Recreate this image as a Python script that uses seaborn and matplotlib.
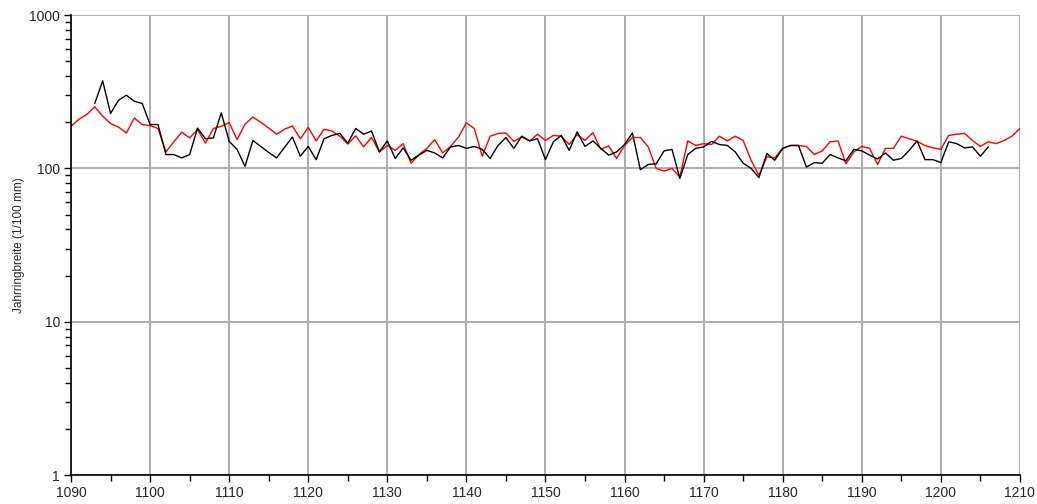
import matplotlib
matplotlib.use("Agg")
import matplotlib.pyplot as plt
import matplotlib.ticker as mticker
import seaborn as sns
import pandas as pd

# Jahrringbreiten (1/100 mm)
red_years = list(range(1090, 1211))
red_values = [
    188, 209, 225, 252, 219, 196, 186, 170, 213, 193,   # 1090-1099
    190, 182, 128, 149, 172, 158, 179, 146, 182, 188,   # 1100-1109
    199, 154, 194, 216, 200, 183, 167, 180, 189, 156,   # 1110-1119
    185, 151, 180, 175, 162, 144, 163, 138, 159, 128,   # 1120-1129
    141, 131, 145, 108, 123, 135, 154, 126, 139, 160,   # 1130-1139
    198, 182, 120, 162, 169, 170, 150, 160, 151, 167,   # 1140-1149
    152, 164, 162, 143, 166, 152, 171, 133, 140, 116,   # 1150-1159
    141, 159, 159, 138, 100, 96, 100, 88, 151, 141,     # 1160-1169
    145, 143, 162, 151, 162, 152, 113, 90, 119, 117,    # 1170-1179
    135, 141, 141, 139, 123, 130, 149, 151, 107, 128,   # 1180-1189
    139, 135, 106, 135, 135, 162, 156, 150, 141, 136,   # 1190-1199
    133, 164, 167, 169, 152, 139, 149, 145, 152, 162,   # 1200-1209
    182,                                                # 1210
]

black_years = list(range(1093, 1207))
black_values = [
    265, 372, 228, 278, 300, 274, 265,                  # 1093-1099
    193, 193, 123, 123, 117, 123, 183, 156, 158, 230,   # 1100-1109
    150, 133, 103, 152, 139, 127, 117, 137, 160, 120,   # 1110-1119
    139, 114, 156, 164, 169, 146, 182, 167, 175, 128,   # 1120-1129
    151, 116, 136, 113, 122, 131, 126, 117, 138, 141,   # 1130-1139
    135, 139, 133, 116, 141, 159, 135, 162, 151, 156,   # 1140-1149
    114, 149, 164, 131, 173, 139, 151, 135, 122, 128,   # 1150-1159
    143, 170, 98, 106, 107, 130, 133, 86, 123, 135,     # 1160-1169
    138, 150, 143, 141, 128, 108, 100, 87, 125, 113,    # 1170-1179
    135, 141, 141, 102, 109, 108, 123, 117, 112, 133,   # 1180-1189
    130, 122, 115, 126, 113, 116, 131, 151, 114, 114,   # 1190-1199
    109, 149, 145, 136, 138, 120, 138,                  # 1200-1206
]

red_df = pd.DataFrame({"Jahr": red_years, "Breite": red_values})
black_df = pd.DataFrame({"Jahr": black_years, "Breite": black_values})

sns.set_style("white")
plt.rcParams['font.family'] = ['Liberation Sans', 'DejaVu Sans']

fig = plt.figure(figsize=(10.37, 5.04), dpi=100)
ax = fig.add_axes([0.0685, 0.0575, 0.915, 0.9127])

sns.lineplot(data=red_df, x="Jahr", y="Breite", color="#ff0000", linewidth=1.0, ax=ax)
sns.lineplot(data=black_df, x="Jahr", y="Breite", color="#000000", linewidth=1.0, ax=ax)

ax.set_yscale("log")
ax.set_ylim(1, 1000)
ax.set_xlim(1090, 1210)

ax.xaxis.set_major_locator(mticker.MultipleLocator(10))
ax.xaxis.set_minor_locator(mticker.MultipleLocator(5))
ax.yaxis.set_major_locator(mticker.LogLocator(base=10))
ax.yaxis.set_minor_locator(mticker.LogLocator(base=10, subs=range(2, 10)))
ax.yaxis.set_major_formatter(mticker.FuncFormatter(lambda v, p: f"{v:g}"))
ax.yaxis.set_minor_formatter(mticker.NullFormatter())

ax.grid(True, which="major", color="#acacac", linewidth=1.4)
ax.set_axisbelow(True)

for side in ["top", "right"]:
    ax.spines[side].set_visible(False)
for side in ["left", "bottom"]:
    ax.spines[side].set_color("black")
    ax.spines[side].set_linewidth(1.2)

ax.tick_params(axis="both", which="major", direction="out", length=5, width=1,
               color="black", labelsize=10, pad=3, left=True, bottom=True)
ax.tick_params(axis="both", which="minor", direction="out", length=4, width=1,
               color="black", left=True, bottom=True)

ax.set_xlabel("")
ax.set_ylabel("Jahrringbreite (1/100 mm)", fontsize=8.5)
ax.yaxis.set_label_coords(-0.048, 0.5)

fig.savefig("out.png", dpi=100)
